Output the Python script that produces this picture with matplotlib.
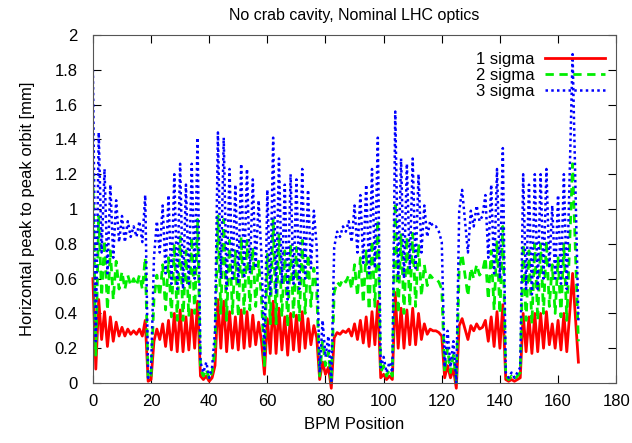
import matplotlib
matplotlib.use("Agg")
import matplotlib.pyplot as plt
from matplotlib import font_manager

# the reference text is tall and narrow: use the narrow face if present
names = {f.name for f in font_manager.fontManager.ttflist}
if 'Liberation Sans Narrow' in names:
    family, fs = 'Liberation Sans Narrow', 13.5
else:
    family, fs = 'Liberation Sans', 12
plt.rcParams['font.family'] = [family, 'DejaVu Sans']

# BPM index along the ring
bpm = list(range(168))

# peak to peak orbit [mm]
sigma1 = [0.60, 0.08, 0.48, 0.25, 0.41, 0.21, 0.38, 0.24, 0.35, 0.27,
          0.32, 0.27, 0.31, 0.28, 0.30, 0.28, 0.31, 0.27, 0.36, 0.01,
          0.02, 0.24, 0.31, 0.25, 0.34, 0.21, 0.36, 0.19, 0.40, 0.18,
          0.42, 0.18, 0.38, 0.19, 0.42, 0.20, 0.47, 0.04, 0.02, 0.04,
          0.01, 0.03, 0.10, 0.48, 0.20, 0.47, 0.18, 0.41, 0.20, 0.38,
          0.19, 0.42, 0.20, 0.41, 0.21, 0.39, 0.22, 0.35, 0.24, 0.05,
          0.37, 0.17, 0.47, 0.17, 0.43, 0.19, 0.38, 0.16, 0.40, 0.19,
          0.39, 0.18, 0.41, 0.20, 0.37, 0.22, 0.33, 0.26, 0.02, 0.12,
          0.05, 0.09, -0.03, 0.26, 0.29, 0.28, 0.30, 0.29, 0.31, 0.27,
          0.34, 0.25, 0.36, 0.23, 0.38, 0.21, 0.41, 0.22, 0.47, 0.03,
          0.05, 0.02, 0.04, 0.02, 0.52, 0.20, 0.43, 0.20, 0.42, 0.22,
          0.43, 0.22, 0.40, 0.25, 0.34, 0.28, 0.31, 0.30, 0.30, 0.29,
          0.27, 0.03, 0.10, 0.03, 0.08, -0.03, 0.33, 0.37, 0.31, 0.25,
          0.33, 0.30, 0.34, 0.31, 0.32, 0.36, 0.24, 0.38, 0.21, 0.41,
          0.20, 0.45, 0.02, 0.01, 0.02, 0.01, 0.02, 0.03, 0.40, 0.18,
          0.38, 0.17, 0.40, 0.18, 0.40, 0.20, 0.41, 0.22, 0.34, 0.20,
          0.36, 0.19, 0.40, 0.18, 0.40, 0.63, 0.37, 0.12]

sigma2 = [1.20, 0.16, 0.96, 0.50, 0.82, 0.42, 0.76, 0.48, 0.70, 0.54,
          0.64, 0.54, 0.62, 0.56, 0.60, 0.56, 0.62, 0.54, 0.72, 0.02,
          0.04, 0.48, 0.62, 0.50, 0.68, 0.42, 0.72, 0.38, 0.80, 0.36,
          0.84, 0.36, 0.76, 0.38, 0.84, 0.40, 0.94, 0.08, 0.04, 0.08,
          0.02, 0.06, 0.20, 0.96, 0.40, 0.94, 0.36, 0.82, 0.40, 0.76,
          0.38, 0.84, 0.40, 0.82, 0.42, 0.78, 0.44, 0.70, 0.48, 0.10,
          0.74, 0.34, 0.94, 0.34, 0.86, 0.38, 0.76, 0.32, 0.80, 0.38,
          0.78, 0.36, 0.82, 0.40, 0.74, 0.44, 0.66, 0.52, 0.04, 0.24,
          0.10, 0.18, 0.00, 0.52, 0.58, 0.56, 0.60, 0.58, 0.62, 0.54,
          0.68, 0.50, 0.72, 0.46, 0.76, 0.42, 0.82, 0.44, 0.94, 0.06,
          0.10, 0.04, 0.08, 0.04, 1.04, 0.40, 0.86, 0.40, 0.84, 0.44,
          0.86, 0.44, 0.80, 0.50, 0.68, 0.56, 0.62, 0.60, 0.60, 0.58,
          0.54, 0.06, 0.20, 0.06, 0.16, 0.00, 0.66, 0.74, 0.62, 0.50,
          0.66, 0.60, 0.68, 0.62, 0.64, 0.72, 0.48, 0.76, 0.42, 0.82,
          0.40, 0.90, 0.04, 0.02, 0.04, 0.02, 0.04, 0.06, 0.80, 0.36,
          0.76, 0.34, 0.80, 0.36, 0.80, 0.40, 0.82, 0.44, 0.68, 0.40,
          0.72, 0.38, 0.80, 0.36, 0.80, 1.26, 0.74, 0.24]

sigma3 = [1.80, 0.24, 1.44, 0.75, 1.23, 0.63, 1.14, 0.72, 1.05, 0.81,
          0.96, 0.81, 0.93, 0.84, 0.90, 0.84, 0.93, 0.81, 1.08, 0.03,
          0.06, 0.72, 0.93, 0.75, 1.02, 0.63, 1.08, 0.57, 1.20, 0.54,
          1.26, 0.54, 1.14, 0.57, 1.26, 0.60, 1.41, 0.12, 0.06, 0.12,
          0.03, 0.09, 0.30, 1.44, 0.60, 1.41, 0.54, 1.23, 0.60, 1.14,
          0.57, 1.26, 0.60, 1.23, 0.63, 1.17, 0.66, 1.05, 0.72, 0.15,
          1.11, 0.51, 1.41, 0.51, 1.29, 0.57, 1.14, 0.48, 1.20, 0.57,
          1.17, 0.54, 1.23, 0.60, 1.11, 0.66, 0.99, 0.78, 0.06, 0.36,
          0.15, 0.27, 0.00, 0.78, 0.87, 0.84, 0.90, 0.87, 0.93, 0.81,
          1.02, 0.75, 1.08, 0.69, 1.14, 0.63, 1.23, 0.66, 1.41, 0.09,
          0.15, 0.06, 0.12, 0.06, 1.56, 0.60, 1.29, 0.60, 1.26, 0.66,
          1.29, 0.66, 1.20, 0.75, 1.02, 0.84, 0.93, 0.90, 0.90, 0.87,
          0.81, 0.09, 0.30, 0.09, 0.24, 0.00, 0.99, 1.11, 0.93, 0.75,
          0.99, 0.90, 1.02, 0.93, 0.96, 1.08, 0.72, 1.14, 0.63, 1.23,
          0.60, 1.35, 0.06, 0.03, 0.06, 0.03, 0.06, 0.09, 1.20, 0.54,
          1.14, 0.51, 1.20, 0.54, 1.20, 0.60, 1.23, 0.66, 1.02, 0.60,
          1.08, 0.57, 1.20, 0.54, 1.20, 1.89, 1.11, 0.36]

xticks = [0, 20, 40, 60, 80, 100, 120, 140, 160, 180]
yticks = [0, 0.2, 0.4, 0.6, 0.8, 1.0, 1.2, 1.4, 1.6, 1.8, 2.0]
ytick_labels = ['0', '0.2', '0.4', '0.6', '0.8', '1', '1.2', '1.4', '1.6', '1.8', '2']

fig = plt.figure(figsize=(6.32, 4.43), dpi=100)
ax = fig.add_axes([0.147, 0.1354, 0.828, 0.7856])

ax.plot(bpm, sigma1, color='#ff0000', lw=2.0, label='1 sigma', clip_on=False)
ax.plot(bpm, sigma2, color='#00ee00', lw=2.0, ls=(0, (3, 2)), label='2 sigma')
ax.plot(bpm, sigma3, color='#0000ff', lw=1.8, ls=(0, (1, 1.3)), label='3 sigma')

ax.set_xlim(0, 180)
ax.set_ylim(0, 2)
ax.set_xticks(xticks)
ax.set_yticks(yticks)
ax.set_yticklabels(ytick_labels)
ax.tick_params(direction='in', length=6, top=True, right=True, labelsize=fs)
ax.tick_params(axis='y', pad=11)
ax.tick_params(axis='x', pad=8)
for s in ax.spines.values():
    s.set_color('#555555')

ax.set_xlabel('BPM Position', fontsize=fs, labelpad=6)
ax.set_ylabel('Horizontal peak to peak orbit [mm]', fontsize=fs, labelpad=14)
ax.set_title('No crab cavity, Nominal LHC optics', fontsize=fs - 0.5, pad=11)

ax.legend(loc='upper right', frameon=False, markerfirst=False, fontsize=fs,
          handlelength=3.6, handletextpad=0.6, labelspacing=0.05,
          borderaxespad=0.3, bbox_to_anchor=(1.0, 0.985))

fig.savefig('out.png', dpi=100)
